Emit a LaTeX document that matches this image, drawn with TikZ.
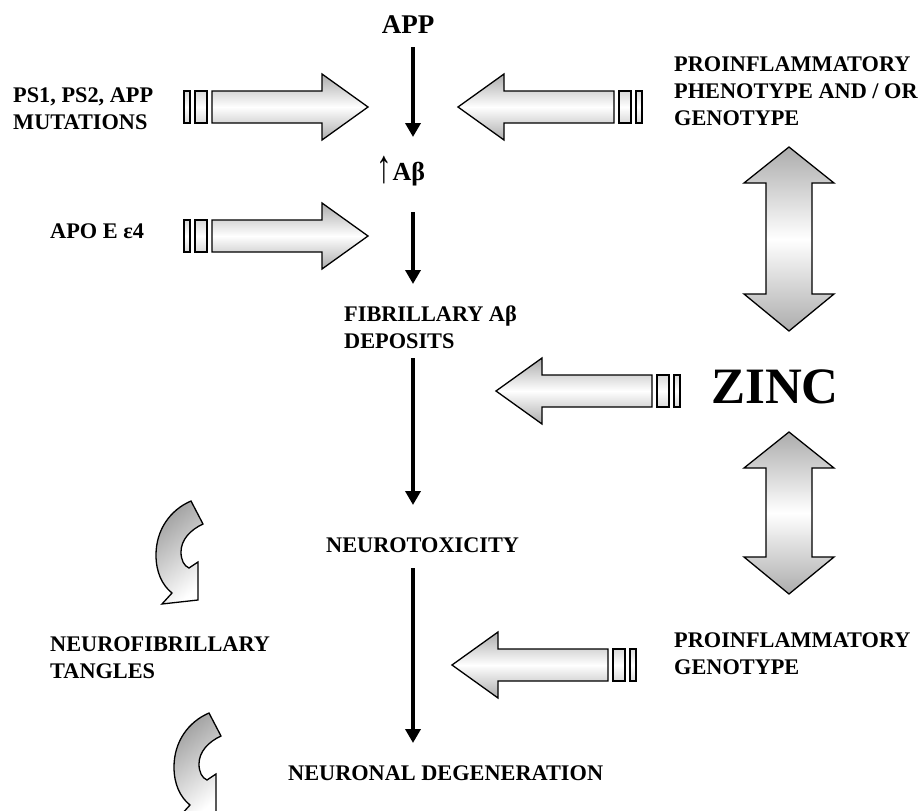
\documentclass[tikz,border=0pt]{standalone}
\usepackage{fontspec}
\usepackage{graphicx}
\setmainfont{Liberation Serif}
\usetikzlibrary{arrows.meta}
\tikzset{
  lbl/.style={font=\fontsize{22.3}{27}\selectfont\bfseries, inner sep=0pt, align=left, anchor=north west},
  flow/.style={line width=4.5pt, -{Triangle[width=15pt,length=14pt]}},
  barrow/.style={draw=black, line width=1.3pt, line join=miter, top color=gray!65, bottom color=gray!65, middle color=white},
  stripe/.style={draw=black, line width=1.3pt, top color=gray!30, bottom color=gray!30, middle color=white},
  carrow/.style={draw=black, line width=1.3pt, top color=gray!75, bottom color=white, shading angle=40},
}
\newcommand\blockarr[3]{%
  \begin{scope}[shift={(#1,#2)}, xscale=#3]
    \path[barrow] (0,0) -- (-46,-33) -- (-46,-16) -- (-156,-16) -- (-156,16) -- (-46,16) -- (-46,33) -- cycle;
    \path[stripe] (-161,-16) rectangle (-173,16);
    \path[stripe] (-178,-16) rectangle (-184,16);
  \end{scope}}
\newcommand\dblarr[3]{%
  \path[barrow] (#1,#2) -- (#1+45,#2+36) -- (#1+23,#2+36) -- (#1+23,#3-37) -- (#1+45,#3-37) -- (#1,#3)
     -- (#1-45,#3-37) -- (#1-23,#3-37) -- (#1-23,#2+36) -- (#1-45,#2+36) -- cycle;}
\newcommand\curvarr[2]{%
  \begin{scope}[shift={(#1,#2)}]
    \path[carrow] (191,501) -- (203,524)
      .. controls (190,530) and (181,540) .. (181,552)
      .. controls (181,560) and (184,566) .. (189,568)
      -- (198,562) -- (198,600) -- (162,604) -- (172,593)
      .. controls (162,585) and (156,572) .. (156,555)
      .. controls (156,530) and (170,510) .. (191,501) -- cycle;
  \end{scope}}
\begin{document}
\begin{tikzpicture}[x=1pt, y=-1pt]
\useasboundingbox (0,0) rectangle (921,811);
\clip (0,0) rectangle (921,811);
\fill[white] (0,0) rectangle (921,811);

% block arrows
\blockarr{368}{107}{1}
\blockarr{368}{236}{1}
\blockarr{458}{107}{-1}
\blockarr{496}{391}{-1}
\blockarr{452}{665}{-1}

% double arrows
\dblarr{789}{147}{331}
\dblarr{789}{432}{594}

% curved arrows
\curvarr{0}{0}
\curvarr{18}{212}

% labels
\node[font=\fontsize{27}{30}\selectfont\bfseries, anchor=base, inner sep=0pt] (app) at (408,33) {APP};
\node[font=\fontsize{26}{30}\selectfont\bfseries, anchor=base, inner sep=0pt] (ab) at (401,180) {\raisebox{-2pt}{\scalebox{1.2}[1.8]{\mdseries ↑}}Aβ};
\node[lbl] (ps) at (13,88) {PS1, PS2, APP\\MUTATIONS};
\node[lbl] (apoe) at (50,224) {APO E ε4};
\node[lbl] (fib) at (344,306) {FIBRILLARY Aβ\\DEPOSITS};
\node[lbl, anchor=base west] (ntox) at (326,552) {NEUROTOXICITY};
\node[lbl] (nft) at (50,637) {NEUROFIBRILLARY\\TANGLES};
\node[lbl, anchor=base west] (ndeg) at (288,780) {NEURONAL DEGENERATION};
\node[lbl] (pro1) at (674,57) {PROINFLAMMATORY\\PHENOTYPE AND / OR\\GENOTYPE};
\node[lbl] (pro2) at (674,633) {PROINFLAMMATORY\\GENOTYPE};
\node[font=\fontsize{51}{60}\selectfont\bfseries, anchor=base west, inner sep=0pt] (zinc) at (711,403) {ZINC};

% main flow
\coordinate (f1a) at (413,47);  \coordinate (f1b) at (413,137);
\coordinate (f2a) at (413,212); \coordinate (f2b) at (413,284);
\coordinate (f3a) at (413,358); \coordinate (f3b) at (413,505);
\coordinate (f4a) at (413,568); \coordinate (f4b) at (413,743);
\draw[flow] (f1a) -- (f1b);
\draw[flow] (f2a) -- (f2b);
\draw[flow] (f3a) -- (f3b);
\draw[flow] (f4a) -- (f4b);
\end{tikzpicture}
\end{document}
